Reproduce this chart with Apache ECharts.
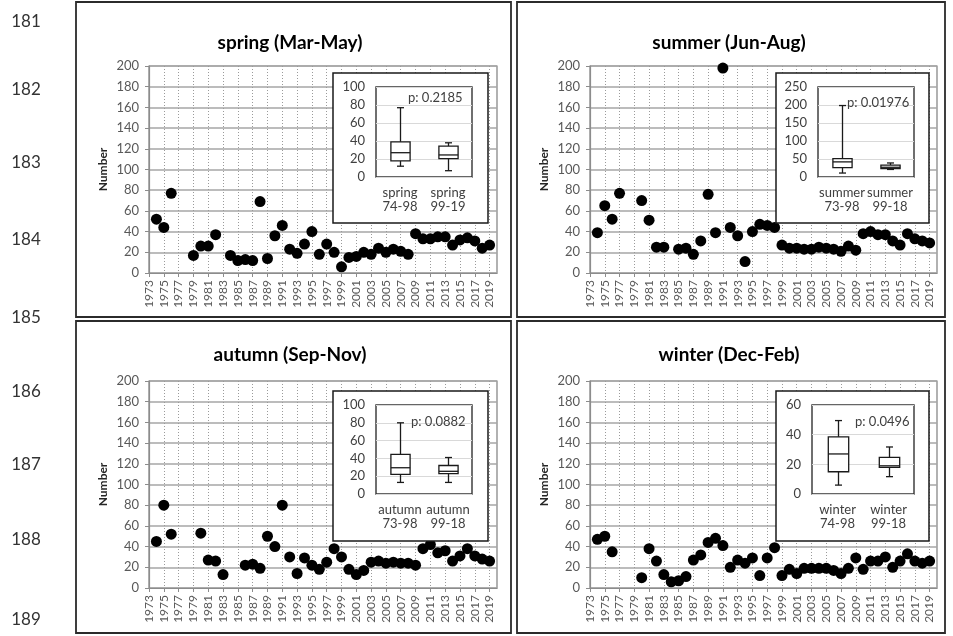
<!DOCTYPE html>
<html>
<head>
<meta charset="utf-8">
<script src="https://cdn.jsdelivr.net/npm/echarts@6/dist/echarts.min.js"></script>
<style>
  html, body { margin: 0; padding: 0; background: #fff; }
  #c { width: 953px; height: 636px; }
</style>
</head>
<body>
<div id="c"></div>
<script>
// Year axis (the axis runs from 1973 to the start of 2020)
const yearAxis = ['1973','1974','1975','1976','1977','1978','1979',
  '1980','1981','1982','1983','1984','1985','1986','1987','1988','1989',
  '1990','1991','1992','1993','1994','1995','1996','1997','1998','1999',
  '2000','2001','2002','2003','2004','2005','2006','2007','2008','2009',
  '2010','2011','2012','2013','2014','2015','2016','2017','2018','2019','2020'];

// Seasonal counts per year, 1973..2019 (null = no record)
const springCounts = [
  null, 52, 44, 77, null, null, 17,
  26, 26, 37, null, 17, 12, 13, 12, 69, 14,
  36, 46, 23, 19, 28, 40, 18, 28, 20, 6,
  15, 16, 20, 18, 24, 20, 23, 21, 18, 38,
  33, 33, 35, 35, 27, 32, 34, 31, 24, 27];
const summerCounts = [
  null, 39, 65, 52, 77, null, null,
  70, 51, 25, 25, null, 23, 24, 18, 31, 76,
  39, 198, 44, 36, 11, 40, 47, 46, 44, 27,
  24, 24, 23, 23, 25, 24, 23, 21, 26, 22,
  38, 40, 37, 37, 31, 27, 38, 33, 31, 29];
const autumnCounts = [
  null, 45, 80, 52, null, null, null,
  53, 27, 26, 13, null, null, 22, 23, 19, 50,
  40, 80, 30, 14, 29, 22, 18, 25, 38, 30,
  18, 13, 17, 25, 26, 24, 25, 24, 24, 22,
  38, 42, 34, 36, 26, 31, 38, 31, 28, 26];
const winterCounts = [
  null, 47, 50, 35, null, null, null,
  10, 38, 26, 13, 6, 7, 11, 27, 32, 44,
  48, 41, 20, 27, 24, 29, 12, 29, 39, 12,
  18, 14, 19, 19, 19, 19, 17, 14, 19, 29,
  18, 26, 26, 30, 20, 26, 33, 26, 24, 26];

// Box plot summaries: [min, Q1, median, Q3, max]
const springBoxes = [[12, 18, 27, 39, 77], [7, 20.5, 24.5, 34.3, 38]];
const summerBoxes = [[11, 26.3, 42, 51.3, 198.5], [21, 23, 27, 33, 39]];
const autumnBoxes = [[13, 22, 29.5, 44.5, 80], [13, 23, 25.5, 32, 41]];
const winterBoxes = [[6, 15, 27, 38.5, 49.5], [11.7, 18, 19, 24.7, 31.7]];

const springGroups = ['spring\n74-98', 'spring\n99-19'];
const summerGroups = ['summer\n73-98', 'summer\n99-18'];
const autumnGroups = ['autumn\n73-98', 'autumn\n99-18'];
const winterGroups = ['winter\n74-98', 'winter\n99-18'];

const pValues = ['p: 0.2185', 'p: 0.01976', 'p: 0.0882', 'p: 0.0496'];
const titles = ['spring (Mar-May)', 'summer (Jun-Aug)', 'autumn (Sep-Nov)', 'winter (Dec-Feb)'];
const lineNumbers = ['181', '182', '183', '184', '185', '186', '187', '188', '189'];

const FONT = 'Lato, "Open Sans", "Noto Sans", sans-serif';

// Layout of the four panels
const panels = [
  { counts: springCounts, boxes: springBoxes, groups: springGroups, insetMax: 100, insetStep: 20,
    grid: { left: 149, top: 66, width: 348, height: 207 },
    inset: { left: 376, top: 87, width: 96, height: 90 },
    frame: { x: 333, y: 73, width: 155, height: 150 },
    title: [290, 43], pText: [408, 98], border: { x: 76, y: 2, width: 435, height: 315 } },
  { counts: summerCounts, boxes: summerBoxes, groups: summerGroups, insetMax: 250, insetStep: 50,
    grid: { left: 590, top: 66, width: 347, height: 207 },
    inset: { left: 818, top: 87, width: 96, height: 90 },
    frame: { x: 776, y: 73, width: 153, height: 150 },
    title: [729, 43], pText: [847, 103], border: { x: 517, y: 2, width: 428, height: 315 } },
  { counts: autumnCounts, boxes: autumnBoxes, groups: autumnGroups, insetMax: 100, insetStep: 20,
    grid: { left: 149, top: 381, width: 348, height: 207 },
    inset: { left: 376, top: 405, width: 96, height: 89 },
    frame: { x: 333, y: 391, width: 155, height: 150 },
    title: [290, 355], pText: [411, 422], border: { x: 76, y: 321, width: 435, height: 312 } },
  { counts: winterCounts, boxes: winterBoxes, groups: winterGroups, insetMax: 60, insetStep: 20,
    grid: { left: 590, top: 381, width: 347, height: 207 },
    inset: { left: 812, top: 405, width: 102, height: 89 },
    frame: { x: 776, y: 391, width: 153, height: 150 },
    title: [729, 355], pText: [855, 422], border: { x: 517, y: 321, width: 428, height: 312 } }
];

function renderBox(params, api) {
  const c = api.value(0);
  const lo = api.coord([c, api.value(1)]);
  const q1 = api.coord([c, api.value(2)]);
  const md = api.coord([c, api.value(3)]);
  const q3 = api.coord([c, api.value(4)]);
  const hi = api.coord([c, api.value(5)]);
  const band = api.size([1, 0])[0];
  const hw = band * 0.2;
  const cw = 3.5;
  const x = Math.round(lo[0]) + 0.5;
  const st = { stroke: '#1a1a1a', lineWidth: 1.3 };
  return {
    type: 'group',
    children: [
      { type: 'line', shape: { x1: x, y1: hi[1], x2: x, y2: q3[1] }, style: st },
      { type: 'line', shape: { x1: x, y1: q1[1], x2: x, y2: lo[1] }, style: st },
      { type: 'line', shape: { x1: x - cw, y1: hi[1], x2: x + cw, y2: hi[1] }, style: st },
      { type: 'line', shape: { x1: x - cw, y1: lo[1], x2: x + cw, y2: lo[1] }, style: st },
      { type: 'rect', shape: { x: x - hw, y: q3[1], width: 2 * hw, height: q1[1] - q3[1] },
        style: { fill: '#fff', stroke: '#1a1a1a', lineWidth: 1.3 } },
      { type: 'line', shape: { x1: x - hw, y1: md[1], x2: x + hw, y2: md[1] }, style: st }
    ]
  };
}

const grid = [], xAxis = [], yAxis = [], series = [], graphic = [];

panels.forEach((p, i) => {
  const gm = 2 * i;      // main scatter grid / axes index
  const gi = 2 * i + 1;  // inset box-plot grid / axes index

  grid.push(Object.assign({ show: true, borderColor: '#7f7f7f', borderWidth: 1.2,
    backgroundColor: 'transparent', z: 0 }, p.grid));
  xAxis.push({
    type: 'category', gridIndex: gm, data: yearAxis, boundaryGap: false,
    axisLine: { lineStyle: { color: '#8c8c8c', width: 1.2 } },
    axisTick: { show: true, interval: 1, length: 4, lineStyle: { color: '#8c8c8c' } },
    axisLabel: { interval: 1, rotate: 90, fontSize: 12, color: '#595959', fontFamily: FONT, margin: 7 },
    splitLine: { show: true, interval: 1, lineStyle: { color: '#9a9a9a', type: [1, 2], width: 1 } }
  });
  yAxis.push({
    type: 'value', gridIndex: gm, min: 0, max: 200, interval: 20,
    name: 'Number', nameLocation: 'middle', nameGap: 40,
    nameTextStyle: { fontWeight: 'bold', fontSize: 12, color: '#262626', fontFamily: FONT },
    axisLine: { show: true, lineStyle: { color: '#8c8c8c', width: 1.2 } },
    axisTick: { show: true, length: 4, lineStyle: { color: '#8c8c8c' } },
    axisLabel: { fontSize: 13, color: '#595959', fontFamily: FONT, margin: 10 },
    splitLine: { lineStyle: { color: '#a6a6a6', width: 1.5 } }
  });
  const pts = [];
  p.counts.forEach((v, k) => { if (v !== null) pts.push([yearAxis[k], v]); });
  series.push({
    type: 'scatter', xAxisIndex: gm, yAxisIndex: gm, data: pts,
    symbolSize: 11, itemStyle: { color: '#000', opacity: 1 }, z: 2, silent: true
  });

  grid.push(Object.assign({ show: true, backgroundColor: '#fff', borderColor: '#333',
    borderWidth: 1.4, z: 4 }, p.inset));
  xAxis.push({
    type: 'category', gridIndex: gi, data: p.groups, z: 5,
    axisLine: { show: false }, axisTick: { show: false },
    axisLabel: { interval: 0, hideOverlap: false, fontSize: 13, color: '#404040',
      fontFamily: FONT, lineHeight: 14, margin: 9 },
    splitLine: { show: false }
  });
  yAxis.push({
    type: 'value', gridIndex: gi, min: 0, max: p.insetMax, interval: p.insetStep, z: 5,
    axisLine: { show: false }, axisTick: { show: false },
    axisLabel: { fontSize: 13, color: '#404040', fontFamily: FONT, margin: 11 },
    splitLine: { lineStyle: { color: '#d9d9d9', width: 1 } }
  });
  series.push({
    type: 'custom', xAxisIndex: gi, yAxisIndex: gi, z: 6, silent: true,
    renderItem: renderBox,
    encode: { x: 0, y: [1, 2, 3, 4, 5] },
    data: p.boxes.map((b, k) => [k].concat(b))
  });

  // panel frame, inset frame, title, p-value
  graphic.push({ type: 'rect', z: 1, shape: p.border,
    style: { fill: null, stroke: '#2b2b2b', lineWidth: 1.8 } });
  graphic.push({ type: 'rect', z: 3, shape: p.frame,
    style: { fill: '#fff', stroke: '#1a1a1a', lineWidth: 1.5 } });
  graphic.push({ type: 'text', z: 10, x: p.title[0], y: p.title[1],
    style: { text: titles[i], fill: '#000', font: 'bold 19px ' + FONT,
      textAlign: 'center', textVerticalAlign: 'middle' } });
  graphic.push({ type: 'text', z: 10, x: p.pText[0], y: p.pText[1],
    style: { text: pValues[i], fill: '#404040', font: '13px ' + FONT,
      textAlign: 'left', textVerticalAlign: 'middle' } });
});

// manuscript line numbers down the left margin
const lineY = [22, 90, 163, 240, 318, 392, 465, 540, 620];
lineNumbers.forEach((t, k) => {
  graphic.push({ type: 'text', z: 10, x: 26, y: lineY[k],
    style: { text: t, fill: '#333', font: '17px ' + FONT, textAlign: 'center', textVerticalAlign: 'middle' } });
});

const chart = echarts.init(document.getElementById('c'));
chart.setOption({
  animation: false,
  backgroundColor: '#fff',
  textStyle: { fontFamily: FONT },
  grid, xAxis, yAxis, series, graphic
});
</script>
</body>
</html>
